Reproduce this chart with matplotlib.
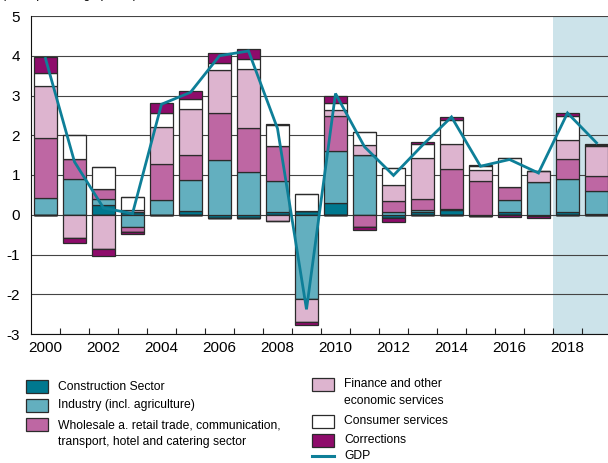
import numpy as np
import matplotlib
matplotlib.use('Agg')
import matplotlib.pyplot as plt
from matplotlib.patches import Rectangle
from matplotlib.lines import Line2D

plt.rcParams['font.family'] = ['Liberation Sans', 'DejaVu Sans']

years = list(range(2000, 2020))

# contributions in percentage points
construction = [0.00, 0.00, 0.24, 0.08, 0.00, 0.09, -0.07, -0.08, 0.07, 0.10,
                0.30, 0.00, -0.09, 0.06, 0.11, -0.04, 0.07, -0.04, 0.07, 0.03]
industry     = [0.43, 0.91, 0.16, -0.31, 0.36, 0.78, 1.37, 1.08, 0.77, -2.13,
                1.30, 1.51, 0.08, 0.05, 0.03, 0.00, 0.31, 0.82, 0.84, 0.57]
wholesale    = [1.49, 0.50, 0.26, -0.13, 0.91, 0.63, 1.20, 1.09, 0.88, 0.00,
                0.88, -0.31, 0.26, 0.29, 1.02, 0.84, 0.33, 0.00, 0.48, 0.37]
finance      = [1.32, -0.58, -0.86, 0.05, 0.94, 1.17, 1.07, 1.49, -0.15, -0.57,
                0.15, 0.24, 0.42, 1.03, 0.61, 0.28, 0.00, 0.28, 0.50, 0.75]
consumer     = [0.33, 0.60, 0.54, 0.32, 0.35, 0.25, 0.18, 0.27, 0.54, 0.42,
                0.17, 0.33, 0.42, 0.36, 0.62, 0.11, 0.73, 0.00, 0.59, 0.04]
corrections  = [0.39, -0.13, -0.19, -0.04, 0.24, 0.19, 0.24, 0.25, 0.03, -0.08,
                0.18, -0.08, -0.10, 0.04, 0.06, 0.03, -0.06, -0.04, 0.07, 0.03]
gdp          = [3.93, 1.33, 0.17, 0.03, 2.78, 3.08, 4.00, 4.12, 2.17, -2.38,
                3.05, 1.71, 0.99, 1.75, 2.46, 1.22, 1.39, 1.05, 2.56, 1.81]

series = [
    ('Construction Sector', construction, '#00788F'),
    ('Industry (incl. agriculture)', industry, '#63AFBF'),
    ('Wholesale a. retail trade, communication,\ntransport, hotel and catering sector', wholesale, '#BE67A3'),
    ('Finance and other\neconomic services', finance, '#DDB4CF'),
    ('Consumer services', consumer, '#FFFFFF'),
    ('Corrections', corrections, '#8E0C6B'),
]
GDP_COLOR = '#0E7F98'
EDGE = '#2b2b2b'

W, H = 608, 463
fig = plt.figure(figsize=(W / 100, H / 100), dpi=100)
ax = fig.add_axes([31 / W, 1 - 334 / H, 580 / W, 318 / H])

x = np.arange(len(years))
pos_base = np.zeros(len(years))
neg_base = np.zeros(len(years))
for name, vals, col in series:
    v = np.array(vals)
    p = np.where(v > 0, v, 0)
    n = np.where(v < 0, v, 0)
    ax.bar(x, p, 0.78, bottom=pos_base, color=col, edgecolor=EDGE, linewidth=0.9, zorder=3)
    ax.bar(x, n, 0.78, bottom=neg_base, color=col, edgecolor=EDGE, linewidth=0.9, zorder=3)
    pos_base += p
    neg_base += n

ax.plot(x, gdp, color=GDP_COLOR, lw=2.0, zorder=5, solid_joinstyle='miter')

ax.axvspan(17.5, 19.5, color='#CCE3EA', zorder=0, lw=0)

ax.set_xlim(-0.5, 19.5)
ax.set_ylim(-3, 5)
ax.set_yticks(range(-3, 6))
ax.set_yticklabels([str(v) for v in range(-3, 6)], fontsize=11)
ax.tick_params(axis='y', length=0, pad=8)
ax.set_xticks(x[::2])
ax.set_xticklabels([str(y) for y in years[::2]], fontsize=11)
ax.set_xticks(np.arange(0.5, 19.5, 1), minor=True)
ax.tick_params(axis='x', which='major', length=0, pad=5)
ax.tick_params(axis='x', which='minor', direction='in', length=4, width=0.8, color='#222')
ax.grid(axis='y', color='#444', lw=0.8, zorder=1)
for s in ['top', 'right']:
    ax.spines[s].set_visible(False)
ax.spines['left'].set_color('#111')
ax.spines['bottom'].set_color('#111')
ax.spines['left'].set_zorder(6)
ax.spines['bottom'].set_zorder(6)

# unit note, mostly cut off at the top edge as in the source
fig.text(2 / W, 1 + 2.0 / H, '(in %, percentage points)', fontsize=8.7,
         va='baseline', ha='left')

# legend drawn by hand so the patches sit on the first text line
def px(xp, yp):
    return xp / W, 1 - yp / H

def legend_patch(x0, yc, col, label, ty=None):
    fx, fy = px(x0, yc + 6.5)
    fig.patches.append(Rectangle((fx, fy), 22 / W, 13 / H, transform=fig.transFigure,
                                 facecolor=col, edgecolor=EDGE, lw=0.9))
    tx, tyy = px(x0 + 32, ty if ty is not None else yc)
    fig.text(tx, tyy, label, fontsize=8.7, va='center', ha='left', linespacing=1.45)

legend_patch(26, 386.5, series[0][2], series[0][0])
legend_patch(26, 405, series[1][2], series[1][0])
legend_patch(26, 424.5, series[2][2], series[2][0], ty=433.5)
legend_patch(312, 384, series[3][2], series[3][0], ty=392.5)
legend_patch(312, 421, series[4][2], series[4][0])
legend_patch(312, 440, series[5][2], series[5][0])
lx0, ly = px(312, 456)
lx1, _ = px(334, 456)
fig.lines.append(Line2D([lx0, lx1], [ly, ly], transform=fig.transFigure, color=GDP_COLOR, lw=2.2))
tx, ty = px(344, 456)
fig.text(tx, ty, 'GDP', fontsize=8.7, va='center', ha='left')

fig.savefig('out.png', dpi=100)
